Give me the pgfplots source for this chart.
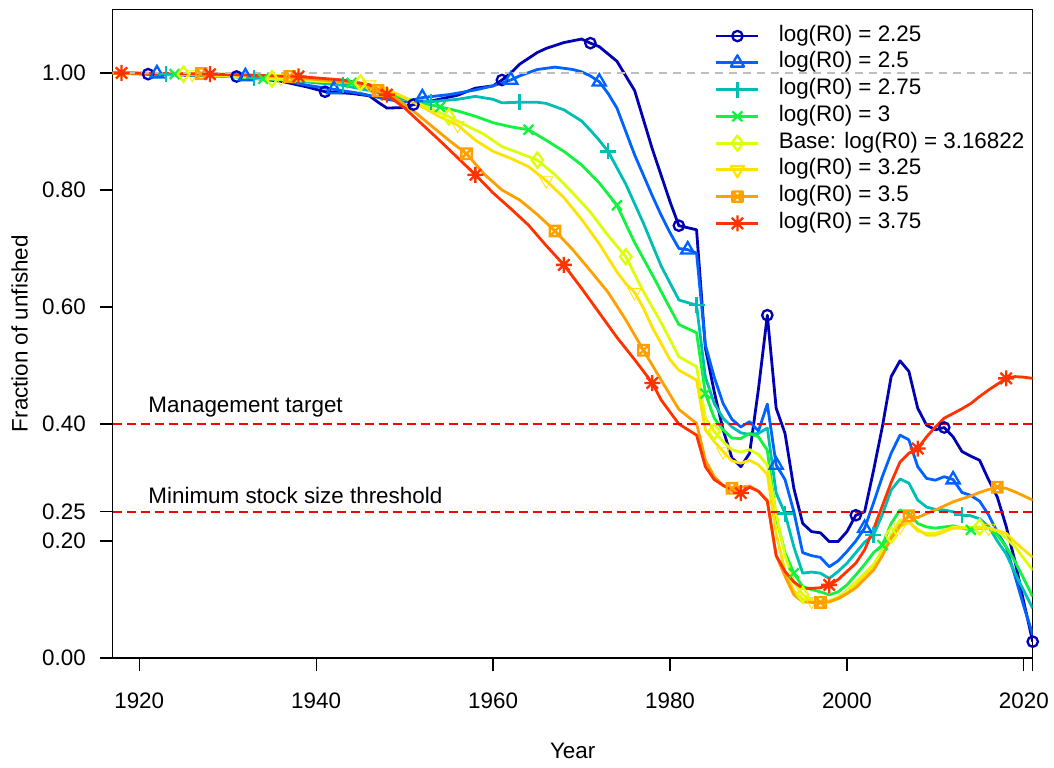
\documentclass[border=0pt]{standalone}
\usepackage{fontspec}
\setmainfont{Liberation Sans}
\usepackage{pgfplots}
\pgfplotsset{compat=1.18}
\definecolor{c1}{HTML}{0000B4}
\definecolor{c2}{HTML}{0063FF}
\definecolor{c3}{HTML}{00BEB4}
\definecolor{c4}{HTML}{13F23F}
\definecolor{c5}{HTML}{DDFE0B}
\definecolor{c6}{HTML}{FFE201}
\definecolor{c7}{HTML}{FF9F00}
\definecolor{c8}{HTML}{FF3300}
\definecolor{refgray}{HTML}{BEBEBE}
\definecolor{refred}{HTML}{FF0000}
\pgfdeclareplotmark{sqx}{%
  \pgfpathrectangle{\pgfpoint{-\pgfplotmarksize}{-\pgfplotmarksize}}{\pgfpoint{2\pgfplotmarksize}{2\pgfplotmarksize}}%
  \pgfpathmoveto{\pgfpoint{-\pgfplotmarksize}{-\pgfplotmarksize}}%
  \pgfpathlineto{\pgfpoint{\pgfplotmarksize}{\pgfplotmarksize}}%
  \pgfpathmoveto{\pgfpoint{-\pgfplotmarksize}{\pgfplotmarksize}}%
  \pgfpathlineto{\pgfpoint{\pgfplotmarksize}{-\pgfplotmarksize}}%
  \pgfusepathqstroke}
\pgfdeclareplotmark{ast8}{%
  \pgfpathmoveto{\pgfpoint{0pt}{-\pgfplotmarksize}}\pgfpathlineto{\pgfpoint{0pt}{\pgfplotmarksize}}%
  \pgfpathmoveto{\pgfpoint{-\pgfplotmarksize}{0pt}}\pgfpathlineto{\pgfpoint{\pgfplotmarksize}{0pt}}%
  \pgfpathmoveto{\pgfpoint{-0.707\pgfplotmarksize}{-0.707\pgfplotmarksize}}\pgfpathlineto{\pgfpoint{0.707\pgfplotmarksize}{0.707\pgfplotmarksize}}%
  \pgfpathmoveto{\pgfpoint{-0.707\pgfplotmarksize}{0.707\pgfplotmarksize}}\pgfpathlineto{\pgfpoint{0.707\pgfplotmarksize}{-0.707\pgfplotmarksize}}%
  \pgfusepathqstroke}
\pgfplotsset{
  ser/.style={line width=1.4pt, line join=round},
  mk/.style={only marks, mark options={line width=1.15pt, solid}},
  mo/.style={mark options={line width=1.15pt, solid}},
}
\newcommand{\tf}{\fontsize{11.2}{13.4}\selectfont}
\begin{document}
\begin{tikzpicture}
\useasboundingbox (0,0) rectangle (527pt,383.5pt);
\begin{axis}[
  at={(56.35pt,54.5pt)}, anchor=south west,
  scale only axis, width=460pt, height=324.25pt,
  xmin=1917, xmax=2021, ymin=0, ymax=1.1085,
  xtick={1920,1940,1960,1980,2000,2020,2021},
  xticklabels={1920,1940,1960,1980,2000,2020,{}},
  ytick={0,0.2,0.25,0.4,0.6,0.8,1},
  yticklabels={0.00,0.20,0.25,0.40,0.60,0.80,1.00},
  tick align=outside, xtick pos=bottom, ytick pos=left,
  major tick length=6.5pt,
  every tick/.style={black, line width=0.6pt},
  axis line style={line width=0.6pt},
  tick label style={font=\tf},
  xticklabel style={yshift=-7.4pt},
  yticklabel style={xshift=-3.4pt},
  xlabel={Year}, ylabel={Fraction of unfished},
  every axis x label/.style={at={(axis description cs:0.5,-0.1425)}, anchor=center, font=\tf},
  every axis y label/.style={at={(axis description cs:-0.1013,0.5)}, rotate=90, anchor=center, font=\tf},
  legend style={at={(0.6547,0.976)}, anchor=north west, draw=none, fill=none,
    inner sep=0pt, outer sep=0pt, row sep=2.38pt, font=\tf,
    nodes={inner sep=0pt, text height=8pt, text depth=3pt},
    /tikz/every odd column/.append style={column sep=9.5pt}},
  legend cell align=left,
  legend image code/.code={\draw[mark repeat=2,mark phase=2,#1] plot coordinates {(0pt,0pt) (10.5pt,0pt) (21pt,0pt)};},
]
% 2.25
\addplot[c1, ser, forget plot] coordinates {(1917,1.0)(1921,0.998)(1926,0.996)(1931,0.994)(1936,0.986)(1939,0.976)(1941,0.968)(1944,0.965)(1946,0.961)(1947,0.95)(1948,0.94)(1950,0.941)(1951,0.946)(1953,0.952)(1956,0.962)(1958,0.974)(1960,0.978)(1961,0.988)(1962,1.0)(1963,1.015)(1965,1.035)(1966,1.042)(1968,1.052)(1970,1.058)(1971,1.051)(1972,1.045)(1974,1.02)(1976,0.97)(1978,0.87)(1980,0.78)(1981,0.739)(1983,0.732)(1984,0.53)(1985,0.455)(1986,0.39)(1987,0.342)(1988,0.327)(1989,0.35)(1990,0.46)(1991,0.586)(1992,0.427)(1993,0.384)(1994,0.29)(1995,0.23)(1996,0.216)(1997,0.214)(1998,0.199)(1999,0.199)(2000,0.216)(2001,0.244)(2002,0.25)(2003,0.32)(2004,0.395)(2005,0.481)(2006,0.508)(2007,0.49)(2008,0.427)(2009,0.398)(2010,0.39)(2011,0.394)(2012,0.378)(2013,0.353)(2014,0.345)(2015,0.338)(2016,0.305)(2017,0.275)(2018,0.225)(2019,0.165)(2020,0.095)(2021,0.028)};
\addplot[c1, mk, mark=o, mark size=2.6pt, forget plot] coordinates {(1921,0.998)(1931,0.994)(1941,0.968)(1951,0.946)(1961,0.988)(1971,1.051)(1981,0.739)(1991,0.586)(2001,0.244)(2011,0.394)(2021,0.028)};
% 2.5
\addplot[c2, ser, forget plot] coordinates {(1917,1.0)(1922,0.999)(1927,0.997)(1932,0.994)(1936,0.988)(1939,0.979)(1942,0.972)(1945,0.965)(1948,0.955)(1950,0.95)(1952,0.958)(1955,0.963)(1958,0.971)(1960,0.978)(1962,0.988)(1963,0.995)(1965,1.006)(1967,1.01)(1969,1.006)(1970,1.002)(1971,0.995)(1972,0.985)(1973,0.965)(1974,0.94)(1975,0.9)(1976,0.86)(1977,0.825)(1978,0.79)(1979,0.757)(1980,0.727)(1981,0.70)(1982,0.698)(1983,0.692)(1984,0.535)(1985,0.48)(1986,0.435)(1987,0.408)(1988,0.395)(1989,0.404)(1990,0.388)(1991,0.434)(1992,0.33)(1993,0.305)(1994,0.25)(1995,0.18)(1996,0.175)(1997,0.172)(1998,0.156)(1999,0.166)(2000,0.182)(2001,0.2)(2002,0.222)(2003,0.265)(2004,0.31)(2005,0.35)(2006,0.381)(2007,0.373)(2008,0.327)(2009,0.307)(2010,0.304)(2011,0.31)(2012,0.305)(2013,0.283)(2014,0.278)(2015,0.268)(2016,0.245)(2017,0.215)(2018,0.19)(2019,0.14)(2020,0.088)(2021,0.04)};
\addplot[c2, mk, mark=triangle, mark size=3.8pt, forget plot] coordinates {(1922,0.999)(1932,0.994)(1942,0.972)(1952,0.958)(1962,0.988)(1972,0.985)(1982,0.698)(1992,0.33)(2002,0.222)(2012,0.305)};
% 2.75
\addplot[c3, ser, forget plot] coordinates {(1917,1.0)(1923,0.998)(1928,0.996)(1933,0.992)(1938,0.986)(1943,0.979)(1946,0.97)(1948,0.962)(1950,0.955)(1953,0.951)(1956,0.955)(1958,0.96)(1960,0.955)(1961,0.949)(1963,0.95)(1965,0.95)(1966,0.948)(1968,0.937)(1970,0.918)(1971,0.902)(1972,0.885)(1973,0.866)(1975,0.81)(1977,0.743)(1979,0.67)(1981,0.612)(1983,0.603)(1984,0.48)(1985,0.435)(1986,0.41)(1987,0.395)(1988,0.385)(1989,0.382)(1990,0.384)(1991,0.393)(1992,0.282)(1993,0.247)(1994,0.19)(1995,0.145)(1996,0.147)(1997,0.145)(1998,0.136)(1999,0.148)(2000,0.162)(2001,0.18)(2002,0.198)(2003,0.21)(2004,0.245)(2005,0.287)(2006,0.306)(2007,0.299)(2008,0.27)(2009,0.258)(2010,0.254)(2011,0.253)(2012,0.25)(2013,0.244)(2014,0.243)(2015,0.238)(2016,0.225)(2017,0.2)(2018,0.178)(2019,0.145)(2020,0.115)(2021,0.085)};
\addplot[c3, mk, mark=+, mark size=4pt, forget plot] coordinates {(1923,0.998)(1933,0.992)(1943,0.979)(1953,0.951)(1963,0.95)(1973,0.866)(1983,0.603)(1993,0.247)(2003,0.21)(2013,0.244)};
% 3
\addplot[c4, ser, forget plot] coordinates {(1917,1.0)(1924,0.998)(1929,0.995)(1934,0.99)(1939,0.987)(1944,0.983)(1947,0.973)(1949,0.962)(1951,0.952)(1954,0.942)(1956,0.935)(1958,0.926)(1960,0.915)(1962,0.908)(1964,0.903)(1966,0.885)(1968,0.866)(1970,0.843)(1972,0.812)(1974,0.774)(1976,0.71)(1978,0.655)(1980,0.598)(1981,0.57)(1983,0.556)(1984,0.452)(1985,0.41)(1986,0.39)(1987,0.376)(1988,0.375)(1989,0.384)(1990,0.378)(1991,0.355)(1992,0.24)(1993,0.18)(1994,0.145)(1995,0.122)(1996,0.117)(1997,0.113)(1998,0.108)(1999,0.113)(2000,0.125)(2001,0.142)(2002,0.16)(2003,0.18)(2004,0.193)(2005,0.23)(2006,0.253)(2007,0.247)(2008,0.23)(2009,0.224)(2010,0.222)(2011,0.224)(2012,0.226)(2013,0.222)(2014,0.219)(2015,0.222)(2016,0.222)(2017,0.21)(2018,0.19)(2019,0.165)(2020,0.135)(2021,0.105)};
\addplot[c4, mk, mark=x, mark size=3.5pt, forget plot] coordinates {(1924,0.998)(1934,0.99)(1944,0.983)(1954,0.942)(1964,0.903)(1974,0.774)(1984,0.452)(1994,0.145)(2004,0.193)(2014,0.219)};
% Base 3.16822
\addplot[c5, ser, forget plot] coordinates {(1917,1.0)(1925,0.998)(1930,0.995)(1935,0.99)(1940,0.986)(1945,0.983)(1948,0.972)(1950,0.958)(1952,0.945)(1955,0.925)(1957,0.91)(1959,0.895)(1961,0.874)(1963,0.863)(1965,0.851)(1967,0.826)(1969,0.795)(1971,0.762)(1973,0.722)(1975,0.686)(1977,0.626)(1979,0.573)(1981,0.515)(1983,0.498)(1984,0.41)(1985,0.387)(1986,0.37)(1987,0.356)(1988,0.352)(1989,0.356)(1990,0.348)(1991,0.33)(1992,0.247)(1993,0.175)(1994,0.13)(1995,0.108)(1996,0.1)(1997,0.097)(1998,0.098)(1999,0.104)(2000,0.115)(2001,0.13)(2002,0.145)(2003,0.16)(2004,0.185)(2005,0.21)(2006,0.236)(2007,0.233)(2008,0.217)(2009,0.213)(2010,0.213)(2011,0.218)(2012,0.224)(2013,0.223)(2014,0.222)(2015,0.224)(2016,0.222)(2017,0.217)(2018,0.205)(2019,0.19)(2020,0.17)(2021,0.15)};
\addplot[c5, mk, mark=diamond, mark size=3.8pt, forget plot] coordinates {(1925,0.998)(1935,0.99)(1945,0.983)(1955,0.925)(1965,0.851)(1975,0.686)(1985,0.387)(1995,0.108)(2005,0.21)(2015,0.224)};
% 3.25
\addplot[c6, ser, forget plot] coordinates {(1917,1.0)(1926,0.998)(1931,0.995)(1936,0.991)(1941,0.987)(1946,0.98)(1948,0.972)(1950,0.958)(1952,0.942)(1954,0.925)(1956,0.911)(1958,0.885)(1960,0.866)(1962,0.854)(1964,0.84)(1966,0.816)(1968,0.787)(1970,0.75)(1972,0.708)(1974,0.66)(1975,0.64)(1976,0.625)(1977,0.598)(1978,0.565)(1980,0.51)(1981,0.492)(1983,0.475)(1984,0.39)(1985,0.37)(1986,0.353)(1987,0.337)(1988,0.333)(1989,0.338)(1990,0.33)(1991,0.314)(1992,0.213)(1993,0.148)(1994,0.115)(1995,0.101)(1996,0.097)(1997,0.094)(1998,0.096)(1999,0.101)(2000,0.11)(2001,0.124)(2002,0.14)(2003,0.155)(2004,0.175)(2005,0.205)(2006,0.224)(2007,0.232)(2008,0.22)(2009,0.21)(2010,0.21)(2011,0.216)(2012,0.222)(2013,0.222)(2014,0.223)(2015,0.222)(2016,0.222)(2017,0.218)(2018,0.213)(2019,0.198)(2020,0.185)(2021,0.172)};
\addplot[c6, mk, mark=triangle, mark size=3.8pt, mark options={rotate=180}, forget plot] coordinates {(1926,0.998)(1936,0.991)(1946,0.98)(1956,0.911)(1966,0.816)(1976,0.625)(1986,0.353)(1996,0.097)(2006,0.224)(2016,0.222)};
% 3.5
\addplot[c7, ser, forget plot] coordinates {(1917,1.0)(1927,0.999)(1932,0.997)(1937,0.994)(1942,0.986)(1945,0.979)(1947,0.97)(1949,0.957)(1951,0.935)(1953,0.91)(1955,0.885)(1957,0.862)(1959,0.827)(1961,0.8)(1963,0.783)(1965,0.758)(1967,0.73)(1969,0.698)(1971,0.662)(1973,0.625)(1975,0.578)(1977,0.526)(1979,0.475)(1981,0.425)(1983,0.401)(1984,0.338)(1985,0.31)(1986,0.295)(1987,0.29)(1988,0.292)(1989,0.294)(1990,0.285)(1991,0.27)(1992,0.175)(1993,0.14)(1994,0.108)(1995,0.096)(1996,0.095)(1997,0.095)(1998,0.096)(1999,0.102)(2000,0.11)(2001,0.12)(2002,0.135)(2003,0.15)(2004,0.175)(2005,0.205)(2006,0.227)(2007,0.243)(2008,0.24)(2009,0.247)(2010,0.253)(2011,0.26)(2012,0.267)(2013,0.272)(2014,0.277)(2015,0.283)(2016,0.288)(2017,0.292)(2018,0.29)(2019,0.284)(2020,0.277)(2021,0.27)};
\addplot[c7, mk, mark=sqx, mark size=2.6pt, forget plot] coordinates {(1927,0.999)(1937,0.994)(1947,0.97)(1957,0.862)(1967,0.73)(1977,0.526)(1987,0.29)(1997,0.095)(2007,0.243)(2017,0.292)};
% 3.75
\addplot[c8, ser, forget plot] coordinates {(1917,1.0)(1918,1.0)(1923,0.999)(1928,0.998)(1933,0.996)(1938,0.994)(1943,0.988)(1946,0.98)(1948,0.963)(1950,0.94)(1952,0.912)(1954,0.884)(1956,0.855)(1958,0.826)(1960,0.795)(1962,0.768)(1964,0.74)(1966,0.705)(1968,0.672)(1970,0.632)(1972,0.59)(1974,0.548)(1976,0.51)(1978,0.47)(1979,0.441)(1981,0.4)(1983,0.381)(1984,0.327)(1985,0.305)(1986,0.295)(1987,0.287)(1988,0.282)(1989,0.292)(1990,0.285)(1991,0.268)(1992,0.175)(1993,0.148)(1994,0.13)(1995,0.119)(1996,0.119)(1997,0.12)(1998,0.125)(1999,0.134)(2000,0.148)(2001,0.162)(2002,0.185)(2003,0.22)(2004,0.26)(2005,0.3)(2006,0.335)(2007,0.35)(2008,0.358)(2009,0.378)(2010,0.395)(2011,0.41)(2012,0.418)(2013,0.426)(2014,0.435)(2015,0.447)(2016,0.458)(2017,0.468)(2018,0.478)(2019,0.481)(2020,0.48)(2021,0.478)};
\addplot[c8, mk, mark=ast8, mark size=4pt, forget plot] coordinates {(1918,1.0)(1928,0.998)(1938,0.994)(1948,0.963)(1958,0.826)(1968,0.672)(1978,0.47)(1988,0.282)(1998,0.125)(2008,0.358)(2018,0.478)};
% reference lines
\addplot[refgray, line width=0.8pt, dash pattern=on 4pt off 3pt, forget plot] coordinates {(1917,1)(2021,1)};
\addplot[refred, line width=0.8pt, dash pattern=on 4.5pt off 2.5pt, forget plot] coordinates {(1917,0.4)(2021,0.4)};
\addplot[refred, line width=0.8pt, dash pattern=on 4.5pt off 2.5pt, forget plot] coordinates {(1917,0.25)(2021,0.25)};
\node[anchor=base west, inner sep=0pt, font=\tf] at (axis cs:1921,0.419) {Management target};
\node[anchor=base west, inner sep=0pt, font=\tf] at (axis cs:1921,0.2644) {Minimum stock size threshold};
% legend
\addlegendimage{c1, ser, mark=o, mark size=2.6pt, mo}
\addlegendentry{log(R0) = 2.25}
\addlegendimage{c2, ser, mark=triangle, mark size=3.8pt, mo}
\addlegendentry{log(R0) = 2.5}
\addlegendimage{c3, ser, mark=+, mark size=4pt, mo}
\addlegendentry{log(R0) = 2.75}
\addlegendimage{c4, ser, mark=x, mark size=3.5pt, mo}
\addlegendentry{log(R0) = 3}
\addlegendimage{c5, ser, mark=diamond, mark size=3.8pt, mo}
\addlegendentry{Base: log(R0) = 3.16822}
\addlegendimage{c6, ser, mark=triangle, mark size=3.8pt, mark options={line width=1.15pt, solid, rotate=180}}
\addlegendentry{log(R0) = 3.25}
\addlegendimage{c7, ser, mark=sqx, mark size=2.6pt, mo}
\addlegendentry{log(R0) = 3.5}
\addlegendimage{c8, ser, mark=ast8, mark size=4pt, mo}
\addlegendentry{log(R0) = 3.75}
\end{axis}
\end{tikzpicture}
\end{document}
